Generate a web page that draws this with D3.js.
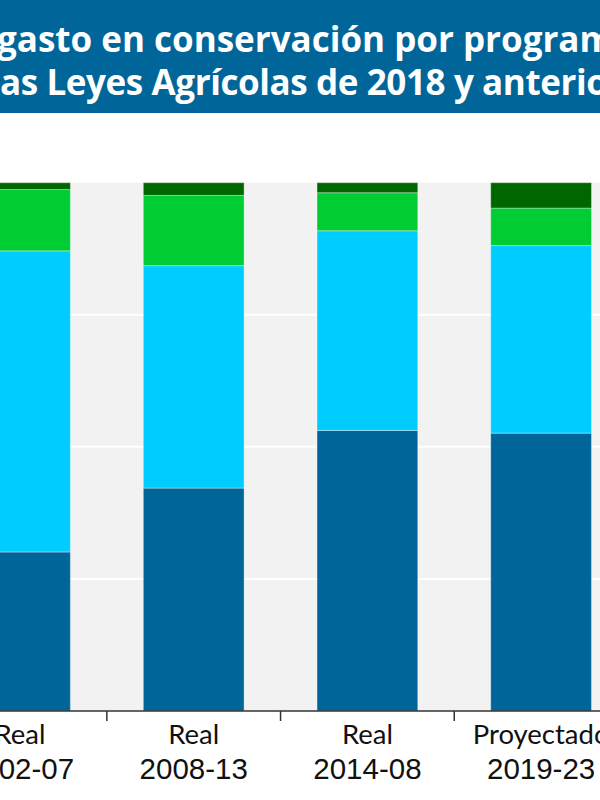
<!DOCTYPE html>
<html>
<head>
<meta charset="utf-8">
<script src="https://cdn.jsdelivr.net/npm/d3@7"></script>
<style>
  body { margin: 0; background: #fff; }
  svg { display: block; }
</style>
</head>
<body>
<div id="chart"></div>
<script>
// data (share of spending, %)
let periods = ["Real", "Real", "Real", "Proyectado"];
let years = ["2002-07", "2008-13", "2014-08", "2019-23"];
let serieA = [30.1, 42.2, 53.1, 52.6];   // dark blue
let serieB = [57.0, 42.1, 37.8, 35.5];   // cyan
let serieC = [11.6, 13.3, 7.2, 7.1];     // green
let serieD = [1.3, 2.4, 1.9, 4.8];       // dark green
let titleLines = ["gasto en conservación por programa", "as Leyes Agrícolas de 2018 y anteriores"];

let width = 600, height = 800;
let plotTop = 182.7, plotBottom = 711;

let svg = d3.select('#chart').append('svg')
  .attr('width', width)
  .attr('height', height)

// title band
svg.append('rect')
  .attr('x', 0).attr('y', 0)
  .attr('width', width).attr('height', 113)
  .attr('fill', '#006699')

svg.selectAll('.title')
  .data(titleLines)
  .enter()
  .append('text').classed('title', true)
  .attr('x', (d, i) => i == 0 ? -3 : 0)
  .attr('y', (d, i) => 52 + i * 43)
  .attr('fill', '#fff')
  .attr('font-family', '"Open Sans", sans-serif')
  .attr('font-weight', 700)
  .attr('font-size', 35)
  .attr('letter-spacing', (d, i) => i == 0 ? 0 : -0.4)
  .text(d => d)

let keys = ["a", "b", "c", "d"];
let colors = d3.scaleOrdinal()
  .domain(keys)
  .range(["#006699", "#00ccff", "#00cc33", "#006600"]);

let table = years.map((y, i) => ({
  year: y, a: serieA[i], b: serieB[i], c: serieC[i], d: serieD[i]
}));
let stacked = d3.stack().keys(keys)(table);

let x = d3.scaleBand()
  .domain(years)
  .range([-66.85, 627.95])
  .paddingInner(0.42)
  .paddingOuter(0.21);

let y = d3.scaleLinear()
  .domain([0, 100])
  .range([plotBottom, plotTop]);

// plot background
svg.append('rect')
  .attr('x', 0).attr('y', plotTop)
  .attr('width', width).attr('height', plotBottom - plotTop)
  .attr('fill', '#f2f2f2')

svg.append('g')
  .selectAll('line')
  .data([25, 50, 75])
  .enter()
  .append('line')
  .attr('x1', 0).attr('x2', width)
  .attr('y1', d => y(d)).attr('y2', d => y(d))
  .attr('stroke', '#fff')
  .attr('stroke-width', 2)

svg.append('g')
  .selectAll('g')
  .data(stacked)
  .enter()
  .append('g')
  .attr('fill', d => colors(d.key))
  .selectAll('rect')
  .data(d => d)
  .enter()
  .append('rect')
  .attr('x', d => x(d.data.year))
  .attr('width', x.bandwidth())
  .attr('y', d => y(d[1]))
  .attr('height', d => y(d[0]) - y(d[1]))
  .attr('stroke', 'rgba(255,255,255,0.35)')
  .attr('stroke-width', 1)

// x axis: line with ticks between the bars
svg.append('line')
  .attr('x1', 0).attr('x2', width)
  .attr('y1', plotBottom).attr('y2', plotBottom)
  .attr('stroke', '#333')
  .attr('stroke-width', 1.5)

svg.append('g')
  .selectAll('line')
  .data(years.slice(1))
  .enter()
  .append('line')
  .attr('x1', d => x(d) - x.step() * x.paddingInner() / 2)
  .attr('x2', d => x(d) - x.step() * x.paddingInner() / 2)
  .attr('y1', plotBottom).attr('y2', plotBottom + 10)
  .attr('stroke', '#333')
  .attr('stroke-width', 1.5)

let labels = svg.append('g')
  .selectAll('g')
  .data(years)
  .enter()
  .append('g')
  .attr('transform', d => `translate(${x(d) + x.bandwidth() / 2},0)`)

labels.append('text')
  .attr('y', 744)
  .attr('text-anchor', 'middle')
  .attr('font-family', 'Lato, sans-serif')
  .attr('font-size', 27.5)
  .attr('fill', '#111')
  .text((d, i) => periods[i])

labels.append('text')
  .attr('y', 779)
  .attr('text-anchor', 'middle')
  .attr('font-family', '"Liberation Sans", Arial, sans-serif')
  .attr('font-size', 29.5)
  .attr('fill', '#111')
  .text(d => d)
</script>
</body>
</html>
